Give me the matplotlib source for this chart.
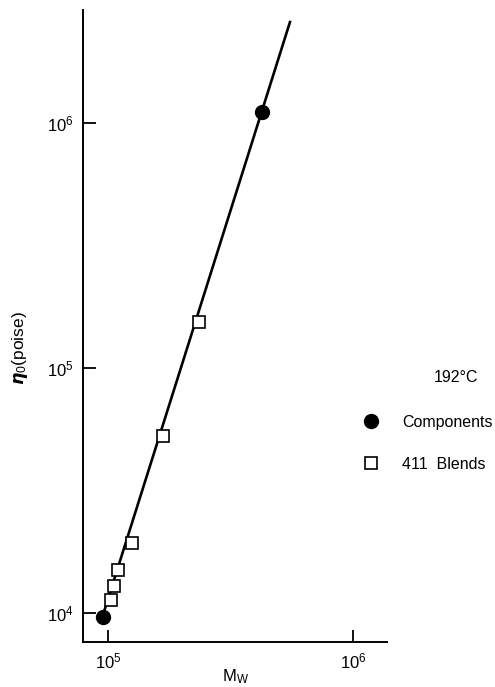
"""Zero-shear viscosity against weight-average molecular weight at 192 C."""

import matplotlib
matplotlib.use("Agg")
from matplotlib import pyplot as plt

# Components (monodisperse samples)
comp_mw = [9.55e4, 4.25e5]
comp_eta = [9.6e3, 1.11e6]

# Blends
blend_mw = [1.03e5, 1.06e5, 1.10e5, 1.25e5, 1.68e5, 2.35e5]
blend_eta = [1.13e4, 1.29e4, 1.50e4, 1.93e4, 5.27e4, 1.54e5]

# Fitted line through both sets, end points
line_mw = [9.4e4, 5.53e5]
line_eta = [9.4e3, 2.58e6]

x_ticks = [1e5, 1e6]
y_ticks = [1e4, 1e5, 1e6]

plt.rcParams["font.family"] = ["Liberation Sans", "DejaVu Sans"]
plt.rcParams["mathtext.fontset"] = "custom"
plt.rcParams["mathtext.rm"] = "Liberation Sans"
plt.rcParams["mathtext.it"] = "Liberation Sans:italic"
plt.rcParams["mathtext.bf"] = "Liberation Sans:bold"

fig = plt.figure(figsize=(4.95, 6.87), dpi=100)
ax = fig.add_axes([83 / 495, 1 - 642 / 687, 304 / 495, 632 / 687])

ax.plot(line_mw, line_eta, color="black", lw=1.9, zorder=2)
ax.plot(blend_mw, blend_eta, ls="none", marker="s", ms=8, mfc="white",
        mec="black", mew=1.2, zorder=3, label="411  Blends")
ax.plot(comp_mw, comp_eta, ls="none", marker="o", ms=10, mfc="black",
        mec="black", zorder=4, label="Components")

ax.set_xscale("log")
ax.set_yscale("log")
ax.set_xlim(7.9e4, 1.377e6)
ax.set_ylim(7.62e3, 2.89e6)

ax.set_xticks(x_ticks)
ax.set_xticklabels([r"$10^{5}$", r"$10^{6}$"])
ax.set_yticks(y_ticks)
ax.set_yticklabels([r"$10^{4}$", r"$10^{5}$", r"$10^{6}$"])
ax.minorticks_off()
ax.tick_params(direction="in", length=9, width=1.3, labelsize=12, pad=7)

for side in ("top", "right"):
    ax.spines[side].set_visible(False)
for side in ("left", "bottom"):
    ax.spines[side].set_linewidth(1.4)

fig.text(235 / 495, 1 - 677 / 687, r"M$_{\mathrm{W}}$", ha="center",
         va="center", fontsize=12)
fig.text(20 / 495, 1 - 348 / 687, r"$\boldsymbol{\eta}_0$(poise)",
         rotation=90, ha="center", va="center", fontsize=12.5)

fig.text(456 / 495, 1 - 378 / 687, "192°C", ha="center", va="center",
         fontsize=11.5)

handles, labels = ax.get_legend_handles_labels()
ax.legend(handles[::-1], labels[::-1], loc="center left",
          bbox_to_anchor=(363 / 495, 1 - 443.5 / 687),
          bbox_transform=fig.transFigure, frameon=False, fontsize=11.5,
          handlelength=1.0, handletextpad=1.45, labelspacing=1.7,
          borderpad=0, borderaxespad=0)

fig.savefig("out.png", dpi=100)
